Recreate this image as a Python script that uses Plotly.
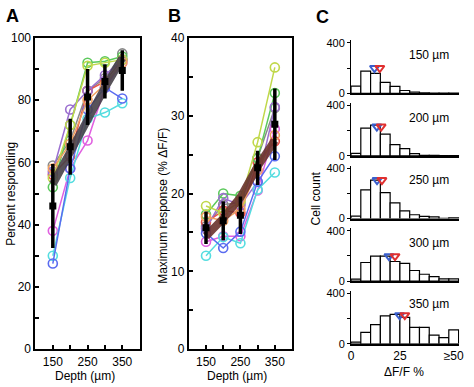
import plotly.graph_objects as go

W, H = 474, 387
FONT = "Liberation Sans, Arial, sans-serif"

# ---------------- data ----------------
depths = [150, 200, 250, 300, 350]

# Panel A: percent responding, one list per animal
a_gray = [59, 67, 83, 87, 95]
a_red = [56, 62, 83, 86, 93]
a_green = [52, 72, 92, 92.5, 94]
a_purple = [57, 77, 83, 88, 93]
a_magenta = [38, 58, 67, 84, 92]
a_cyan = [30, 55, 74, 76, 79]
a_blue = [27.5, 58, 77, 84, 80.5]
a_yellow = [55, 72, 91, 92, 93]
a_orange = [58, 66, 80, 85, 92]
a_fit = [53, 63.5, 74, 84, 93.5]
a_mean = [46, 65, 81, 86, 89.5]
a_err = [13.5, 9, 9, 5.5, 6.5]

# Panel B: maximum response (% dF/F)
b_gray = [15.8, 18.6, 18.8, 24.6, 31.0]
b_red = [16.3, 17.8, 17.5, 24.0, 26.7]
b_green = [17.3, 20.0, 19.7, 24.5, 32.9]
b_purple = [15.5, 19.4, 18.5, 21.5, 31.1]
b_magenta = [13.8, 14.5, 14.5, 20.4, 28.3]
b_cyan = [12.0, 14.4, 13.6, 20.5, 22.7]
b_blue = [14.9, 13.0, 15.1, 21.5, 24.8]
b_yellow = [18.4, 17.5, 19.0, 26.6, 36.2]
b_orange = [17.0, 16.5, 18.0, 23.0, 27.5]
b_fit = [14.5, 16.8, 19.5, 23.5, 26.8]
b_mean = [15.6, 16.5, 17.2, 23.3, 28.9]
b_err = [2.1, 2.5, 2.4, 2.2, 4.6]

line_colors = ["#8a8a8a", "#e8504a", "#5cc95c", "#9b6fd0", "#e060e0",
               "#55dde0", "#5a6cf0", "#c0d84a", "#f0a060"]

# Panel C: histograms of dF/F per depth
bin_centers = [2.5, 7.5, 12.5, 17.5, 22.5, 27.5, 32.5, 37.5, 42.5, 47.5, 52.5]
h150 = [57, 175, 158, 86, 55, 22, 10, 3, 2, 1, 1]
h200 = [20, 220, 244, 173, 90, 57, 18, 5, 4, 3, 3]
h250 = [20, 227, 304, 205, 124, 61, 30, 18, 13, 2, 5]
h300 = [17, 148, 198, 198, 156, 141, 85, 55, 37, 18, 18]
h350 = [13, 91, 153, 222, 234, 210, 131, 131, 69, 49, 111]
hist_labels = ["150 µm", "200 µm", "250 µm", "300 µm", "350 µm"]
tri_blue_x = [12.0, 13.2, 13.3, 19.4, 24.8]
tri_red_x = [14.7, 15.4, 15.8, 22.5, 27.5]
tri_y = [200, 232, 305, 198, 227]

# ---------------- helpers ----------------
def fx(px):
    return px / W

def fy(py):
    return 1 - py / H

fig = go.Figure()

def add_panel(series, fit, mean, err, xa, ya, fitcolor):
    for vals, col in zip(series, line_colors):
        fig.add_trace(go.Scatter(
            x=depths, y=vals, mode="lines+markers", xaxis=xa, yaxis=ya,
            line=dict(color=col, width=1.5),
            marker=dict(symbol="circle-open", size=9, color=col, line=dict(width=1.6)),
            showlegend=False, hoverinfo="skip"))
    fig.add_trace(go.Scatter(
        x=depths, y=fit, mode="lines", xaxis=xa, yaxis=ya,
        line=dict(color=fitcolor, width=8), showlegend=False, hoverinfo="skip"))
    fig.add_trace(go.Scatter(
        x=depths, y=mean, mode="markers", xaxis=xa, yaxis=ya,
        marker=dict(symbol="square", size=7, color="black"),
        error_y=dict(type="data", array=err, visible=True, color="black",
                     thickness=3.5, width=0),
        showlegend=False, hoverinfo="skip"))

add_panel([a_gray, a_red, a_green, a_purple, a_magenta, a_cyan, a_blue, a_yellow, a_orange],
          a_fit, a_mean, a_err, "x", "y", "rgba(70,64,72,0.9)")
add_panel([b_gray, b_red, b_green, b_purple, b_magenta, b_cyan, b_blue, b_yellow, b_orange],
          b_fit, b_mean, b_err, "x2", "y2", "rgba(105,50,45,0.9)")

hists = [h150, h200, h250, h300, h350]
for i, h in enumerate(hists):
    n = i + 3
    xa, ya = f"x{n}", f"y{n}"
    fig.add_trace(go.Bar(
        x=bin_centers, y=h, width=5, xaxis=xa, yaxis=ya,
        marker=dict(color="white", line=dict(color="black", width=1.2)),
        showlegend=False, hoverinfo="skip"))
    fig.add_trace(go.Scatter(
        x=[tri_blue_x[i]], y=[tri_y[i]], mode="markers", xaxis=xa, yaxis=ya,
        marker=dict(symbol="triangle-down-open", size=8, color="#3a5fcd", line=dict(width=2)),
        showlegend=False, hoverinfo="skip", cliponaxis=False))
    fig.add_trace(go.Scatter(
        x=[tri_red_x[i]], y=[tri_y[i]], mode="markers", xaxis=xa, yaxis=ya,
        marker=dict(symbol="triangle-down-open", size=8, color="#e03030", line=dict(width=2)),
        showlegend=False, hoverinfo="skip", cliponaxis=False))

tickfont = dict(family=FONT, size=12, color="black")
tickfontC = dict(family=FONT, size=11, color="black")

layout = dict(
    width=W, height=H, margin=dict(l=0, r=0, t=0, b=0),
    paper_bgcolor="white", plot_bgcolor="white", showlegend=False,
    font=dict(family=FONT, size=12, color="black"),
)

def box_x(domain):
    return dict(domain=domain, range=[100, 400], tickvals=[150, 200, 250, 300, 350],
                ticktext=["150", "", "250", "", "350"], ticks="inside", ticklen=4,
                tickwidth=1.5, tickcolor="black", showline=True, linewidth=2,
                linecolor="black", mirror=True, showgrid=False, zeroline=False,
                tickfont=tickfont)

def box_y(anchor, domain, rng, step):
    vals = [k * step for k in range(11)]
    texts = [str(int(v)) if k % 2 == 0 else "" for k, v in enumerate(vals)]
    return dict(domain=domain, anchor=anchor, range=rng, tickvals=vals, ticktext=texts,
                ticks="inside", ticklen=4, tickwidth=1.5, tickcolor="black",
                showline=True, linewidth=2, linecolor="black", mirror=True,
                showgrid=False, zeroline=False, tickfont=tickfont)

ydomAB = [fy(355), fy(32)]
layout["xaxis"] = dict(box_x([fx(33), fx(139)]), anchor="y")
layout["yaxis"] = box_y("x", ydomAB, [0, 100], 10)
layout["xaxis2"] = dict(box_x([fx(189), fx(294)]), anchor="y2")
layout["yaxis2"] = box_y("x2", ydomAB, [0, 40], 4)
layout["yaxis2"]["tickvals"] = [k * 5 for k in range(9)]
layout["yaxis2"]["ticktext"] = [str(k * 5) if k % 2 == 0 else "" for k in range(9)]

pxc = 0.131
for i in range(5):
    n = i + 3
    y0 = 89.5 + 65 * i
    top = y0 - 420 * pxc
    last = (i == 4)
    layout[f"xaxis{n}"] = dict(
        domain=[fx(354), fx(464)], anchor=f"y{n}", range=[0, 55.3],
        showline=True, linewidth=2, linecolor="black", showgrid=False, zeroline=False,
        ticks="", tickvals=[0, 25, 52.5] if last else [],
        ticktext=["0", "25", "≥50"] if last else [], tickfont=tickfont,
        showticklabels=last)
    layout[f"yaxis{n}"] = dict(
        domain=[fy(y0), fy(top)], anchor=f"x{n}", range=[0, 420],
        showline=True, linewidth=1, linecolor="black", showgrid=False, zeroline=False,
        tickvals=[0, 200, 400], ticktext=["0", "", "400"], ticks="outside",
        ticklen=3, tickcolor="black", tickfont=tickfontC)

fig.update_layout(**layout)

anns = []
def ann(text, x, y, size=12, angle=0, bold=False, xanchor="center", yanchor="middle"):
    t = f"<b>{text}</b>" if bold else text
    anns.append(dict(text=t, x=fx(x), y=fy(y), xref="paper", yref="paper",
                     showarrow=False, textangle=angle, xanchor=xanchor, yanchor=yanchor,
                     font=dict(family=FONT, size=size, color="black")))

ann("A", 1, 9, size=18, bold=True, xanchor="left")
ann("B", 166, 9, size=18, bold=True, xanchor="left")
ann("C", 316, 10, size=18, bold=True, xanchor="left")
ann("Percent responding", 8, 194, angle=-90)
ann("Maximum response (% ΔF/F)", 162, 206, angle=-90)
ann("Depth (µm)", 83, 373, yanchor="top")
ann("Depth (µm)", 238, 373, yanchor="top")
ann("Cell count", 318, 199, angle=-90)
ann("ΔF/F %", 408, 369, yanchor="top")
for i, lab in enumerate(hist_labels):
    ann(lab, 433, 50 + 65 * i - (2 if i == 4 else 0))

fig.update_layout(annotations=anns)
fig.write_html("out.html")
